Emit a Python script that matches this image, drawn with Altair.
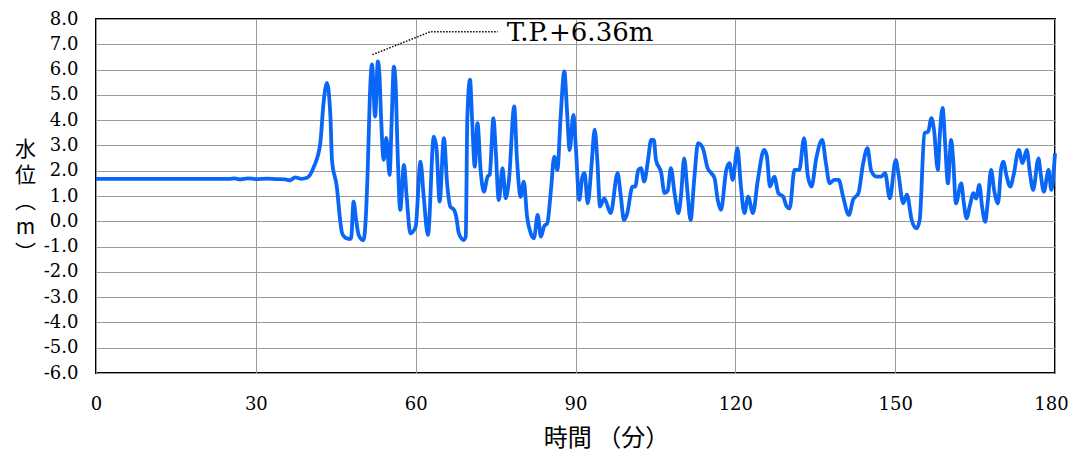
import altair as alt
import pandas as pd

time_min = [0, 25.0, 26.0, 27.0, 28.5, 30.0, 32.0, 34.0, 35.5, 36.4, 37.4, 38.5, 39.6, 40.9, 42.1, 42.7, 43.35, 44.0, 44.3, 45.2,
            45.85, 46.2, 46.8, 47.7, 47.9, 48.35, 48.8, 49.3, 50.2, 50.6, 51.0, 51.4, 51.8, 52.4, 52.9, 53.2, 53.5, 54.0, 54.5, 55.1,
            55.5, 55.9, 56.2, 56.6, 57.1, 57.8, 58.3, 59.0, 60.0, 60.9, 61.5, 62.3, 63.4, 63.9, 64.5, 65.3, 65.9, 66.5, 67.2, 67.6,
            68.1, 69.0, 69.4, 69.7, 70.2, 70.6, 71.1, 71.6, 72.2, 72.8, 73.5, 73.9, 74.6, 75.0, 75.6, 76.3, 76.9, 77.5, 78.5, 79.0,
            79.7, 80.3, 80.9, 81.6, 82.2, 82.9, 83.5, 84.1, 84.7, 85.4, 86.0, 86.6, 87.2, 87.9, 88.4, 88.9, 89.6, 90.1, 90.7, 91.3,
            91.7, 92.3, 93.0, 93.6, 94.1, 94.6, 95.4, 96.6, 97.9, 98.5, 99.1, 99.7, 100.7, 101.2, 101.8, 102.3, 102.9, 103.6, 104.2, 104.7,
            105.1, 106.1, 106.7, 107.3, 107.9, 108.6, 109.3, 109.8, 110.4, 111.0, 111.6, 112.3, 113.0, 113.9, 114.8, 115.5, 116.1, 116.7, 117.3, 118.3,
            118.9, 119.5, 120.4, 121.0, 121.7, 122.4, 123.3, 124.2, 125.4, 125.9, 126.5, 127.3, 128.1, 129.0, 129.6, 130.2, 131.1, 132.0, 132.9, 133.6,
            134.3, 135.2, 136.3, 137.0, 137.7, 138.6, 139.4, 140.2, 141.3, 142.1, 143.1, 144.0, 144.8, 145.5, 146.5, 147.4, 148.1, 149.0, 150.1, 150.6,
            151.5, 152.2, 153.1, 154.0, 154.6, 155.5, 156.2, 156.8, 157.3, 158.0, 158.4, 158.9, 159.4, 159.9, 160.5, 160.9, 161.4, 162.4, 162.9, 163.4,
            164.0, 164.7, 165.2, 165.8, 166.3, 166.9, 167.4, 168.0, 168.6, 169.3, 169.9, 170.3, 170.9, 171.6, 172.2, 173.2, 173.9, 174.7, 175.3, 175.9,
            176.9, 177.3, 177.9, 178.8, 179.3, 180.0]
level_m = [1.68, 1.68, 1.70, 1.66, 1.70, 1.67, 1.69, 1.67, 1.66, 1.62, 1.74, 1.68, 1.72, 2.16, 3.09, 4.67, 5.47, 4.14, 2.4, 1.37,
           0.0, -0.48, -0.65, -0.7, -0.65, 0.78, 0.1, -0.54, -0.75, 0.0, 2.03, 4.93, 6.2, 4.14, 6.32, 5.8, 4.14, 2.43, 3.3, 1.83,
           4.0, 6.12, 5.6, 2.82, 0.45, 2.23, 1.0, -0.48, -0.21, 2.36, 1.0, -0.54, 3.35, 2.9, 0.78, 3.29, 1.5, 0.58, 0.45, 0.2,
           -0.47, -0.74, -0.6, 4.14, 5.6, 4.0, 2.16, 3.88, 2.0, 1.17, 1.77, 1.85, 4.08, 2.9, 0.84, 2.1, 0.91, 1.6, 4.54, 2.5,
           0.97, 1.57, 0.2, -0.48, -0.67, 0.25, -0.61, -0.2, -0.08, 1.24, 2.56, 2.03, 4.1, 5.93, 4.4, 2.82, 4.21, 2.8, 0.84, 1.77,
           1.9, 0.71, 2.2, 3.62, 2.4, 0.58, 0.91, 0.32, 1.9, 1.0, 0.05, 0.3, 1.37, 1.37, 2.03, 2.1, 1.57, 2.4, 3.22, 3.22,
           2.43, 1.9, 1.11, 1.2, 2.1, 1.1, 0.32, 1.0, 2.49, 1.2, 0.05, 1.7, 3.09, 2.89, 2.1, 1.9, 1.7, 0.84, 0.45, 2.03,
           2.3, 1.64, 2.89, 1.5, 0.32, 0.97, 0.32, 1.6, 2.82, 2.6, 1.37, 1.77, 1.1, 0.97, 0.6, 0.51, 2.03, 2.03, 3.29, 1.8,
           1.37, 2.5, 3.22, 2.3, 1.5, 1.64, 1.64, 1.0, 0.25, 0.85, 1.11, 2.3, 2.89, 2.0, 1.77, 1.77, 1.9, 0.91, 2.43, 1.9,
           0.71, 1.05, 0.05, -0.28, 0.05, 3.48, 3.55, 4.08, 3.6, 2.03, 3.5, 4.48, 3.0, 1.5, 3.22, 2.4, 0.71, 1.5, 0.7, 0.12,
           0.6, 1.11, 0.9, 1.44, 0.6, -0.02, 0.8, 2.03, 1.2, 0.71, 2.1, 2.36, 1.8, 1.37, 1.8, 2.82, 2.3, 2.82, 1.9, 1.24,
           2.49, 1.9, 1.17, 2.03, 1.24, 2.69]

x_ticks = [0, 30, 60, 90, 120, 150, 180]
y_ticks = list(range(-6, 9))

ann_t = [51.9, 62.8, 75.4]
ann_v = [6.59, 7.5, 7.5]
ann_label = ["T.P.+6.36m"]
ann_label_t = [77.1]
ann_label_v = [7.46]

y_title = ["水", "位", "︵", "m", "︶"]
x_title = "時間 （分）"

df = pd.DataFrame({"t": time_min, "v": level_m})
ann_df = pd.DataFrame({"t": ann_t, "v": ann_v})
lab_df = pd.DataFrame({"t": ann_label_t, "v": ann_label_v, "label": ann_label})

xscale = alt.Scale(domain=[0, 180], nice=False, zero=False)
yscale = alt.Scale(domain=[-6, 8], nice=False, zero=False)

xaxis = alt.Axis(values=x_ticks, tickCount=20, title=x_title, grid=True, ticks=False, tickSize=0, domain=False,
                 labelPadding=22, labelFontSize=18, labelFont="DejaVu Serif", labelColor="black",
                 labelFlush=False, labelOverlap=False,
                 labelOffset={"condition": {"test": "datum.value == 180", "value": -4}, "value": 0},
                 titleFont="Noto Sans CJK JP", titleFontSize=24, titleFontWeight="normal", titleColor="black",
                 titleX=510, titleY=65, titleBaseline="middle", titleAlign="center")
yaxis = alt.Axis(values=y_ticks, tickCount=30, title=y_title, grid=True, ticks=False, tickSize=0, domain=False,
                 labelPadding=18, labelFontSize=18, labelFont="DejaVu Serif", labelColor="black",
                 labelFlush=False, labelOverlap=False,
                 labelExpr="replace(format(datum.value, '.1f'), '\u2212', '-')",
                 titleFont="Noto Sans CJK JP", titleFontSize=21, titleFontWeight="normal", titleColor="black",
                 titleAngle=0, titleX=-71, titleY=130, titleBaseline="middle", titleAlign="center",
                 titleLineHeight=26)

line = alt.Chart(df).mark_line(color="#0a66f5", strokeWidth=3.8, interpolate="monotone").encode(
    x=alt.X("t:Q", scale=xscale, axis=xaxis),
    y=alt.Y("v:Q", scale=yscale, axis=yaxis),
)

ann_line = alt.Chart(ann_df).mark_line(color="black", strokeWidth=1.5, strokeDash=[1.5, 1.5]).encode(
    x=alt.X("t:Q", scale=xscale),
    y=alt.Y("v:Q", scale=yscale),
)

ann_text = alt.Chart(lab_df).mark_text(align="left", baseline="middle", font="DejaVu Serif",
                                       fontSize=26, color="black").encode(
    x=alt.X("t:Q", scale=xscale),
    y=alt.Y("v:Q", scale=yscale),
    text="label:N",
)

chart = alt.layer(line, ann_line, ann_text).properties(
    width=959, height=354,
    autosize=alt.AutoSizeParams(type="none"),
    padding={"left": 88, "top": 11, "right": 14, "bottom": 82},
).configure_view(
    stroke="black", strokeWidth=2
).configure_axis(
    gridColor="#9a9a9a", gridWidth=1, gridOpacity=1
)

chart.save("out.html", embed_options={"renderer": "svg", "actions": False})
